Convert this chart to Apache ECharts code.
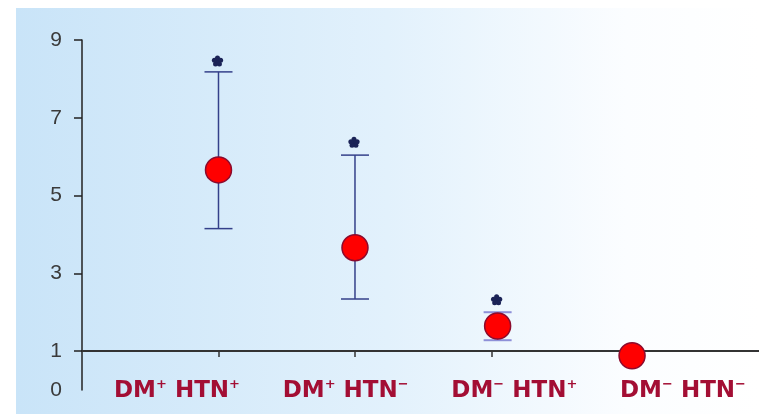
<!DOCTYPE html>
<html><head><meta charset="utf-8">
<script src="https://cdn.jsdelivr.net/npm/echarts@6/dist/echarts.min.js"></script>
<style>html,body{margin:0;padding:0;background:#fff}#c{width:759px;height:414px}</style>
</head><body><div id="c"></div>
<script>
// ---- data ----
const categories = ['DM+ HTN+', 'DM+ HTN-', 'DM- HTN+', 'DM- HTN-'];
const xPositions = [1, 2, 3.045, 4.03];
const means = [5.66, 3.66, 1.645, 0.88];
const upper = [8.18, 6.04, 2.0, null];
const lower = [4.15, 2.34, 1.28, null];
const starY = [8.45, 6.36, 2.31, null];
const yLabelValues = [0, 1, 3, 5, 7, 9];
const yTickValues = [1, 3, 5, 7, 9];
const xTickValues = [1, 2, 3, 4];

// ---- build ----
const errData = xPositions.map((x, i) => [x, lower[i], upper[i]]).filter(d => d[1] != null);
const starData = xPositions.map((x, i) => [x, starY[i]]).filter(d => d[1] != null);
const pointData = xPositions.map((x, i) => [x, means[i]]);

const labelColor = '#a30e34';
function catLabel(s) {
  return s.split(' ').map(w => {
    const base = w.slice(0, -1), sign = w.slice(-1);
    return '{m|' + base + '}{s|' + (sign === '-' ? '\u2212' : '+') + '}';
  }).join('{m| }');
}

const chart = echarts.init(document.getElementById('c'), null, {renderer: 'canvas'});
chart.setOption({
  animation: false,
  graphic: {elements: [{
    type: 'rect', z: -100, silent: true,
    shape: {x: 16, y: 8, width: 743, height: 406},
    style: {fill: {type: 'linear', x: 0, y: 0, x2: 1, y2: 0, colorStops: [
      {offset: 0, color: '#c9e4f8'},
      {offset: 0.5, color: '#e2f1fc'},
      {offset: 0.82, color: '#fbfdff'},
      {offset: 1, color: '#ffffff'}
    ]}}
  }]},
  grid: [
    {left: 82, right: 0, top: 40, bottom: 24},
    {left: 177, right: 76, top: 300, bottom: 23}
  ],
  xAxis: [
    {
      type: 'value', gridIndex: 0, min: 0, max: 4.96, offset: -39,
      axisLine: {show: true, lineStyle: {color: '#333', width: 2}},
      axisTick: {show: true, customValues: xTickValues, length: 6, lineStyle: {color: '#333', width: 1.5}},
      axisLabel: {show: false},
      splitLine: {show: false}
    },
    {
      type: 'category', gridIndex: 1, data: categories, boundaryGap: false,
      axisLine: {show: false}, axisTick: {show: false}, splitLine: {show: false},
      axisLabel: {
        interval: 0, margin: 0, verticalAlign: 'middle',
        formatter: v => catLabel(v),
        rich: {
          m: {fontFamily: 'DejaVu Sans', fontWeight: 'bold', fontSize: 23, color: labelColor, lineHeight: 26},
          s: {fontFamily: 'DejaVu Sans', fontWeight: 'bold', fontSize: 13, color: labelColor, verticalAlign: 'top', lineHeight: 15}
        }
      }
    }
  ],
  yAxis: [
    {
      type: 'value', gridIndex: 0, min: 0, max: 9,
      axisLine: {show: true, lineStyle: {color: '#222', width: 1.5}},
      axisTick: {show: true, customValues: yTickValues, length: 8, lineStyle: {color: '#222', width: 1.5}},
      axisLabel: {customValues: yLabelValues, margin: 20, fontFamily: 'Liberation Sans', fontSize: 21, color: '#3a3a3a'},
      splitLine: {show: false}
    },
    {type: 'value', gridIndex: 1, show: false}
  ],
  series: [
    {
      type: 'custom', xAxisIndex: 0, yAxisIndex: 0, z: 2,
      data: errData,
      renderItem: function (params, api) {
        const x = api.value(0), lo = api.value(1), hi = api.value(2);
        const pHi = api.coord([x, hi]), pLo = api.coord([x, lo]);
        const half = 14;
        const light = params.dataIndex === 2;
        const st = {stroke: '#34408a', lineWidth: 1.5};
        const cap = {stroke: light ? '#8e90d8' : '#34408a', lineWidth: light ? 2 : 1.5};
        return {type: 'group', children: [
          {type: 'line', shape: {x1: pHi[0], y1: pHi[1], x2: pLo[0], y2: pLo[1]}, style: st},
          {type: 'line', shape: {x1: pHi[0] - half, y1: pHi[1], x2: pHi[0] + half, y2: pHi[1]}, style: cap},
          {type: 'line', shape: {x1: pLo[0] - half, y1: pLo[1], x2: pLo[0] + half, y2: pLo[1]}, style: cap}
        ]};
      }
    },
    {
      type: 'custom', xAxisIndex: 0, yAxisIndex: 0, z: 3,
      data: starData,
      renderItem: function (params, api) {
        const p = api.coord([api.value(0), api.value(1)]);
        const cx = p[0] - 1, cy = p[1];
        const kids = [{type: 'circle', shape: {cx: cx, cy: cy, r: 2.8}, style: {fill: '#1b2357'}}];
        for (let k = 0; k < 5; k++) {
          const a = (-90 + 72 * k) * Math.PI / 180;
          kids.push({type: 'circle', shape: {cx: cx + 3.3 * Math.cos(a), cy: cy + 3.3 * Math.sin(a), r: 2.5}, style: {fill: '#1b2357'}});
        }
        return {type: 'group', children: kids};
      }
    },
    {
      type: 'scatter', xAxisIndex: 0, yAxisIndex: 0, z: 4,
      data: pointData, symbol: 'circle', symbolSize: 26,
      itemStyle: {color: '#ff0000', borderColor: '#8c0a2c', borderWidth: 1.5, opacity: 1}
    }
  ]
});
</script></body></html>
